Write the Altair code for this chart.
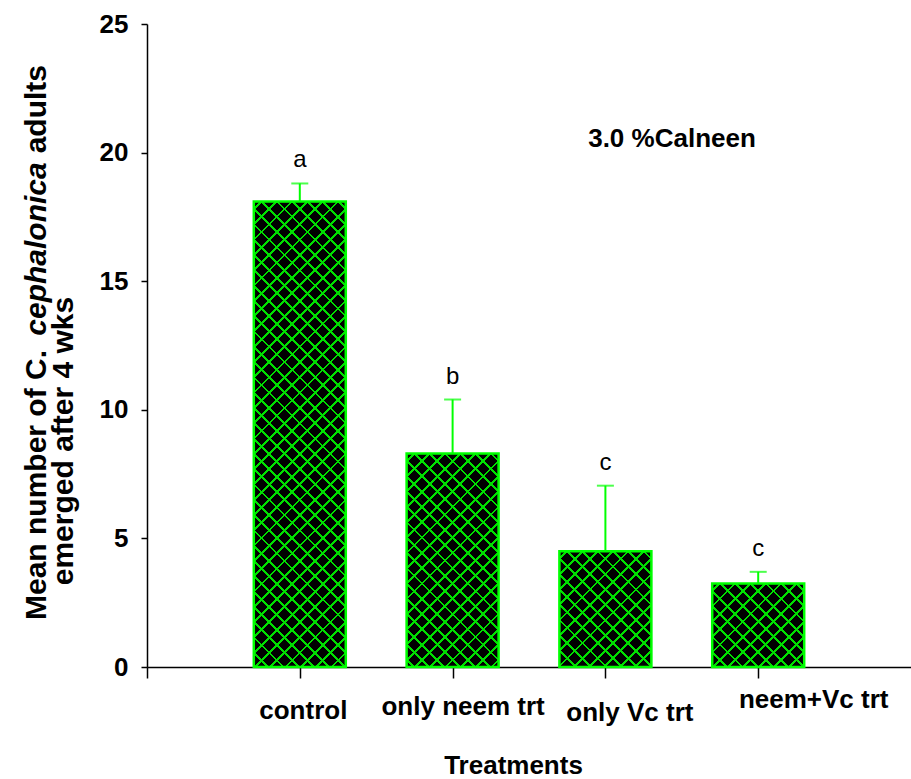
import json
import pandas as pd
import altair as alt

# ---- data ----
categories = ["control", "only neem trt", "only Vc trt", "neem+Vc trt"]
positions = [1, 2, 3, 4]
means = [18.1, 8.3, 4.5, 3.25]
upper = [18.8, 10.4, 7.05, 3.7]
letters = ["a", "b", "c", "c"]
y_ticks = [0, 5, 10, 15, 20, 25]
annotation = "3.0 %Calneen"

df = pd.DataFrame({"cat": categories, "pos": positions, "mean": means,
                   "upper": upper, "letter": letters})

# ---- layout / style ----
W_PLOT, H_PLOT = 764, 643
Y_MAX, X_MAX = 25, 5
BAR_W = 92
LIME = "#00ff00"
HATCH = "#00dd00"
SANS = "Liberation Sans, Arial, sans-serif"

xscale = alt.Scale(domain=[0, X_MAX], nice=False, zero=False, padding=0)
yscale = alt.Scale(domain=[0, Y_MAX], nice=False, padding=0)

label_js = json.dumps([""] + categories)
off = [3, 10, 24, 55]
padv = [40, 36, 42, 29]

x_axis = alt.Axis(
    values=[0] + positions,
    labelExpr=f"{label_js}[datum.value]",
    tickSize=11, tickWidth=1.5, tickColor="black",
    domainColor="black", domainWidth=1.5,
    labelFont=SANS, labelFontWeight="bold", labelFontSize=26, labelColor="black",
    labelBaseline="alphabetic", labelAlign="center", labelFlush=False, labelOverlap=False,
    labelLimit=0,
    labelOffset={"condition": [{"test": f"datum.value == {p}", "value": o} for p, o in zip(positions, off)], "value": 0},
    labelPadding={"condition": [{"test": f"datum.value == {p}", "value": o} for p, o in zip(positions, padv)], "value": 40},
    title="Treatments", titleFont=SANS, titleFontSize=26, titleFontWeight="bold",
    titleColor="black", titleX=366, titleY=106, titleBaseline="alphabetic", titleAlign="center",
    grid=False,
)
y_axis = alt.Axis(
    values=y_ticks, tickSize=6, tickWidth=1.5, tickColor="black",
    domainColor="black", domainWidth=1.5,
    labelFont=SANS, labelFontWeight="bold", labelFontSize=26, labelColor="black",
    labelPadding=13, labelFlush=False, title="", grid=False,
)

X = alt.X("pos:Q", scale=xscale, axis=x_axis)
Y = alt.Y("mean:Q", scale=yscale, axis=y_axis)
YU = alt.Y("upper:Q", scale=yscale, axis=y_axis)

base = alt.Chart(df)

bars = base.mark_bar(orient="vertical", size=BAR_W, fill="black", strokeWidth=0).encode(x=X, y=Y)


def hatch(h, direction, period=15.3, half=1.4):
    w = BAR_W
    tot = w + h
    L = (w * w + h * h) / tot
    a, b = w / L, h / L
    stops = [{"offset": 0, "color": "rgba(0,0,0,0)"}]
    k = period / 2
    while k < tot:
        lo = max((k - half) / tot, 0)
        hi = min((k + half) / tot, 1)
        stops += [
            {"offset": lo, "color": "rgba(0,0,0,0)"},
            {"offset": lo, "color": HATCH},
            {"offset": hi, "color": HATCH},
            {"offset": hi, "color": "rgba(0,0,0,0)"},
        ]
        k += period
    stops.append({"offset": 1, "color": "rgba(0,0,0,0)"})
    if direction == 1:
        g = {"gradient": "linear", "x1": 0, "y1": 0, "x2": a, "y2": b, "stops": stops}
    else:
        g = {"gradient": "linear", "x1": 1, "y1": 0, "x2": 1 - a, "y2": b, "stops": stops}
    return g


hatch_layers = []
for p, m in zip(positions, means):
    h = m * H_PLOT / Y_MAX
    for d in (1, 2):
        hatch_layers.append(
            base.transform_filter(f"datum.pos == {p}")
            .mark_bar(orient="vertical", size=BAR_W, fill=hatch(h, d), strokeWidth=0)
            .encode(x=X, y=Y)
        )

border = base.mark_bar(orient="vertical", size=BAR_W, fill="black", fillOpacity=0,
                       stroke=LIME, strokeWidth=2.5).encode(x=X, y=Y)

err = base.mark_rule(color=LIME, strokeWidth=2).encode(x=X, y=Y, y2="upper:Q")
caps = base.mark_tick(orient="horizontal", size=17, thickness=2, color=LIME).encode(x=X, y=YU)

sig = base.mark_text(font=SANS, fontSize=24, color="black", baseline="alphabetic",
                     align="center", dy=-16).encode(x=X, y=YU, text="letter:N")

note = alt.Chart(pd.DataFrame({"t": [annotation]})).mark_text(
    font=SANS, fontSize=26, fontWeight="bold", color="black", align="center",
    baseline="alphabetic").encode(x=alt.value(525), y=alt.value(123), text="t:N")

# y-axis title (two lines, species name in italics)
def ytxt(txt, xv, yv, align, italic=False):
    kw = dict(font=SANS, fontSize=30, fontWeight="bold", color="black", angle=270,
              align=align, baseline="alphabetic")
    if italic:
        kw["fontStyle"] = "italic"
    return alt.Chart(pd.DataFrame({"t": [txt]})).mark_text(**kw).encode(
        x=alt.value(xv), y=alt.value(yv), text="t:N")

ytitle = [
    ytxt("Mean number of C.", -101, 596, "left"),
    ytxt("cephalonica", -101, 225, "center", italic=True),
    ytxt("adults", -101, 41, "right"),
    ytxt("emerged after 4 wks", -74, 417, "center"),
]

chart = alt.layer(bars, *hatch_layers, border, err, caps, sig, note, *ytitle).properties(
    width=W_PLOT, height=H_PLOT,
    autosize=alt.AutoSizeParams(type="none"),
    padding={"left": 147, "top": 24, "right": 0, "bottom": 112},
    background="white",
).configure_view(strokeWidth=0)

chart.save("out.html", embed_options={"renderer": "svg", "actions": False})
